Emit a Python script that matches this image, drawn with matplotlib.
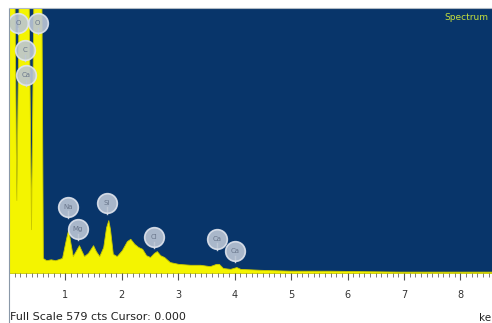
import matplotlib
matplotlib.use('Agg')
import matplotlib.pyplot as plt
import numpy as np

# spectrum outline (energy keV, counts); peaks above 579 are clipped
energy = [0.00, 0.09, 0.13, 0.18, 0.34, 0.39, 0.44, 0.57, 0.60, 0.66, 0.74, 0.82,
          0.94, 1.01, 1.05, 1.08, 1.13, 1.19, 1.24, 1.28, 1.33, 1.40, 1.49, 1.54,
          1.60, 1.67, 1.72, 1.76, 1.79, 1.84, 1.91, 2.00, 2.09, 2.15, 2.22, 2.29,
          2.36, 2.43, 2.50, 2.57, 2.62, 2.68, 2.75, 2.85, 3.00, 3.21, 3.39, 3.56,
          3.67, 3.72, 3.79, 3.92, 4.03, 4.10, 4.45, 4.98, 5.69, 6.93, 8.60]
counts = [700, 700, 160, 700, 700, 96, 700, 700, 33, 28, 30, 28,
          33, 75, 96, 72, 37, 50, 61, 50, 37, 44, 61, 48,
          37, 57, 100, 116, 96, 42, 37, 50, 70, 75, 64, 57,
          53, 39, 35, 44, 48, 39, 35, 24, 20, 18, 18, 15,
          20, 20, 11, 9, 13, 9, 7, 5, 5, 3, 3]

# element markers: label, energy, height of marker (counts)
elements = ['O', 'O', 'C', 'Ca', 'Na', 'Mg', 'Si', 'Cl', 'Ca', 'Ca']
el_energy = [0.16, 0.51, 0.28, 0.30, 1.05, 1.22, 1.74, 2.57, 3.69, 4.01]
el_height = [548, 548, 489, 434, 145, 96, 154, 79, 75, 48]

xticks = [1, 2, 3, 4, 5, 6, 7, 8]
full_scale = 579

fig = plt.figure(figsize=(4.92, 3.23), dpi=100)
ax = fig.add_axes([9/492, 50/323, 1 - 9/492, 264/323])
ax.set_facecolor('#08356a')

ax.fill_between(energy, counts, 0, color='#f4f400', edgecolor='#c9c800', linewidth=0.6)
ax.set_xlim(0, 8.56)
ax.set_ylim(0, full_scale)

for lab, e, h in zip(elements, el_energy, el_height):
    ax.plot([e, e], [h - 24, h - 10], color='#c8d0dc', lw=1, zorder=3)
    ax.scatter([e], [h], s=200, color='#bcc6d5', edgecolors='#e0e5ee', linewidths=1.2,
               alpha=0.9, zorder=4)
    ax.text(e, h, lab, ha='center', va='center', fontsize=5, color='#6a778c', zorder=5)

ax.text(0.992, 0.985, 'Spectrum', transform=ax.transAxes, ha='right', va='top',
        fontsize=6.5, color='#c6e03c')

ax.set_xticks(xticks)
ax.set_xticks(np.arange(0.1, 8.6, 0.1), minor=True)
ax.set_yticks([])
ax.tick_params(axis='x', which='major', direction='out', length=5, width=0.8,
               color='#555555', labelsize=7, labelcolor='#333333', pad=7)
ax.tick_params(axis='x', which='minor', direction='out', length=3, width=0.6, color='#666666')
for s in ax.spines.values():
    s.set_visible(False)

fig.add_artist(plt.Line2D([9/492, 9/492], [0, 1 - 9/323], color='#8a98a8', lw=0.8))
fig.add_artist(plt.Line2D([9/492, 1], [1 - 8/323, 1 - 8/323], color='#b0bac4', lw=0.8))

fig.text(10/492, 6/323, 'Full Scale 579 cts Cursor: 0.000', fontsize=8, color='#222222',
         va='center')
fig.text(479/492, 5/323, 'ke', fontsize=7.5, color='#222222', va='center')

fig.savefig('out.png', dpi=100)
